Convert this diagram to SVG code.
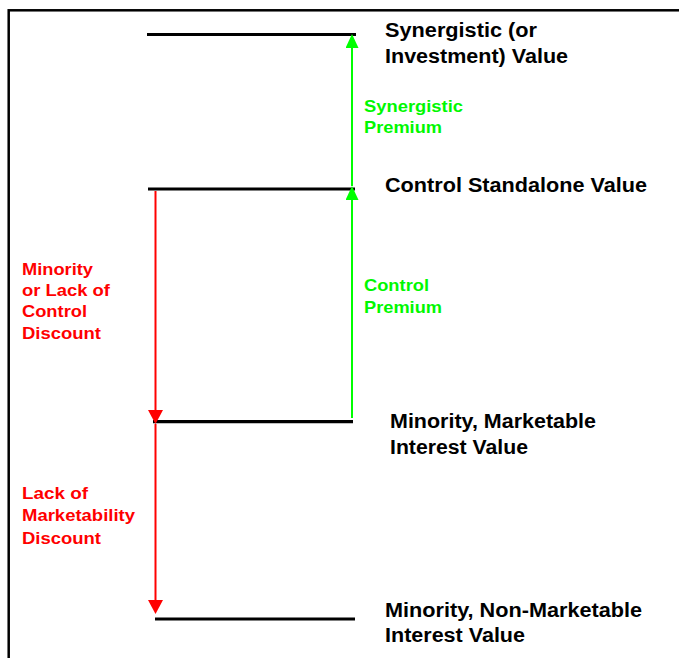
<svg xmlns="http://www.w3.org/2000/svg" width="679" height="658" viewBox="0 0 679 658">
  <style>
    .level { stroke: #000; stroke-width: 3.2; fill: none; }
    .lbl { font-family: "Liberation Sans", Arial, sans-serif; font-weight: bold; font-size: 19.5px; fill: #000; }
    .up { stroke: #00FF00; stroke-width: 2; fill: none; }
    .down { stroke: #FF0000; stroke-width: 2; fill: none; }
    .gtxt { font-family: "Liberation Sans", Arial, sans-serif; font-weight: bold; font-size: 16.3px; fill: #00F800; }
    .rtxt { font-family: "Liberation Sans", Arial, sans-serif; font-weight: bold; font-size: 16.3px; fill: #FF0000; }
  </style>
  <defs>
    <marker id="headGreen" markerUnits="userSpaceOnUse" markerWidth="14" markerHeight="13" refX="0" refY="6.5" orient="auto">
      <path d="M0,0 L14,6.5 L0,13 z" fill="#00FF00"/>
    </marker>
    <marker id="headRed" markerUnits="userSpaceOnUse" markerWidth="14" markerHeight="15" refX="0" refY="7.5" orient="auto">
      <path d="M0,0 L14,7.5 L0,15 z" fill="#FF0000"/>
    </marker>
  </defs>

  <rect width="679" height="658" fill="#fff"/>
  <!-- frame -->
  <rect x="8.7" y="10.3" width="720" height="720" fill="none" stroke="#000" stroke-width="2.5"/>

  <!-- value levels -->
  <g id="synergistic-value">
    <line class="level" x1="147" y1="34.5" x2="356" y2="34.5"/>
    <text class="lbl" x="385" y="37" textLength="152" lengthAdjust="spacingAndGlyphs">Synergistic (or</text>
    <text class="lbl" x="385" y="62.5" textLength="183" lengthAdjust="spacingAndGlyphs">Investment) Value</text>
  </g>
  <g id="control-standalone-value">
    <line class="level" x1="148" y1="189" x2="355" y2="189"/>
    <text class="lbl" x="385" y="192" textLength="262" lengthAdjust="spacingAndGlyphs">Control Standalone Value</text>
  </g>
  <g id="minority-marketable-value">
    <line class="level" x1="153" y1="421.7" x2="353" y2="421.7"/>
    <text class="lbl" x="390" y="428" textLength="206" lengthAdjust="spacingAndGlyphs">Minority, Marketable</text>
    <text class="lbl" x="390" y="453.5" textLength="138" lengthAdjust="spacingAndGlyphs">Interest Value</text>
  </g>
  <g id="minority-non-marketable-value">
    <line class="level" x1="155" y1="619" x2="355" y2="619"/>
    <text class="lbl" x="385" y="616.5" textLength="257" lengthAdjust="spacingAndGlyphs">Minority, Non-Marketable</text>
    <text class="lbl" x="385" y="642" textLength="140" lengthAdjust="spacingAndGlyphs">Interest Value</text>
  </g>

  <!-- premiums and discounts -->
  <g id="connectors">
    <g id="synergistic-premium">
      <line class="up" x1="352" y1="186" x2="352" y2="48" marker-end="url(#headGreen)"/>
      <text class="gtxt" x="364" y="111.5" textLength="99" lengthAdjust="spacingAndGlyphs">Synergistic</text>
      <text class="gtxt" x="364" y="133" textLength="78" lengthAdjust="spacingAndGlyphs">Premium</text>
    </g>
    <g id="control-premium">
      <line class="up" x1="352" y1="418" x2="352" y2="200" marker-end="url(#headGreen)"/>
      <text class="gtxt" x="364" y="291" textLength="65" lengthAdjust="spacingAndGlyphs">Control</text>
      <text class="gtxt" x="364" y="313" textLength="78" lengthAdjust="spacingAndGlyphs">Premium</text>
    </g>
    <g id="minority-discount">
      <line class="down" x1="155.5" y1="191" x2="155.5" y2="410" marker-end="url(#headRed)"/>
      <text class="rtxt" x="22" y="275" textLength="71" lengthAdjust="spacingAndGlyphs">Minority</text>
      <text class="rtxt" x="22" y="296" textLength="88" lengthAdjust="spacingAndGlyphs">or Lack of</text>
      <text class="rtxt" x="22" y="317" textLength="65" lengthAdjust="spacingAndGlyphs">Control</text>
      <text class="rtxt" x="22" y="339" textLength="79" lengthAdjust="spacingAndGlyphs">Discount</text>
    </g>
    <g id="marketability-discount">
      <line class="down" x1="155.5" y1="424" x2="155.5" y2="600" marker-end="url(#headRed)"/>
      <text class="rtxt" x="22" y="499" textLength="66" lengthAdjust="spacingAndGlyphs">Lack of</text>
      <text class="rtxt" x="22" y="521" textLength="113" lengthAdjust="spacingAndGlyphs">Marketability</text>
      <text class="rtxt" x="22" y="544" textLength="79" lengthAdjust="spacingAndGlyphs">Discount</text>
    </g>
  </g>
</svg>
